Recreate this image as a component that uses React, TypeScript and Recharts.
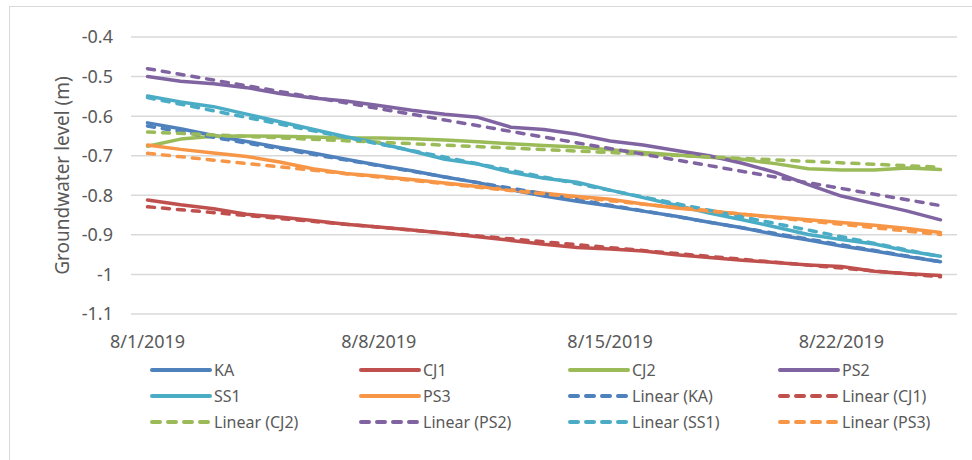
// groundwater level lines with linear trendlines

import { LineChart, Line, XAxis, YAxis, CartesianGrid } from "recharts";

const dates = [
  "8/1/2019", "8/2/2019", "8/3/2019", "8/4/2019", "8/5/2019", "8/6/2019", "8/7/2019",
  "8/8/2019", "8/9/2019", "8/10/2019", "8/11/2019", "8/12/2019", "8/13/2019", "8/14/2019",
  "8/15/2019", "8/16/2019", "8/17/2019", "8/18/2019", "8/19/2019", "8/20/2019", "8/21/2019",
  "8/22/2019", "8/23/2019", "8/24/2019", "8/25/2019",
];

const KA = [
  -0.617, -0.632, -0.649, -0.664, -0.679, -0.693, -0.709, -0.724, -0.738, -0.754, -0.768, -0.786,
  -0.802, -0.815, -0.827, -0.84, -0.853, -0.868, -0.882, -0.899, -0.913, -0.928, -0.941, -0.955, -0.968,
];
const CJ1 = [
  -0.812, -0.824, -0.834, -0.848, -0.855, -0.864, -0.873, -0.88, -0.888, -0.896, -0.905, -0.914,
  -0.924, -0.932, -0.936, -0.941, -0.95, -0.957, -0.964, -0.97, -0.976, -0.98, -0.992, -0.998, -1.003,
];
const CJ2 = [
  -0.676, -0.658, -0.651, -0.65, -0.651, -0.653, -0.655, -0.655, -0.657, -0.66, -0.665, -0.67,
  -0.674, -0.678, -0.685, -0.692, -0.698, -0.704, -0.709, -0.72, -0.733, -0.736, -0.736, -0.731, -0.735,
];
const PS2 = [
  -0.5, -0.512, -0.518, -0.528, -0.543, -0.554, -0.562, -0.573, -0.585, -0.595, -0.603, -0.628,
  -0.634, -0.646, -0.663, -0.673, -0.687, -0.7, -0.719, -0.742, -0.773, -0.802, -0.821, -0.84, -0.862,
];
const SS1 = [
  -0.549, -0.564, -0.576, -0.595, -0.614, -0.633, -0.652, -0.668, -0.688, -0.709, -0.721, -0.742,
  -0.757, -0.767, -0.787, -0.806, -0.825, -0.845, -0.862, -0.88, -0.899, -0.912, -0.923, -0.941, -0.954,
];
const PS3 = [
  -0.673, -0.684, -0.693, -0.702, -0.716, -0.733, -0.745, -0.752, -0.76, -0.769, -0.778, -0.786,
  -0.795, -0.803, -0.81, -0.822, -0.832, -0.84, -0.848, -0.855, -0.862, -0.869, -0.876, -0.884, -0.894,
];

// trendline ends (first day, last day)
const trendStart = [-0.625, -0.829, -0.64, -0.48, -0.553, -0.694];
const trendEnd = [-0.968, -1.006, -0.729, -0.826, -0.955, -0.899];

const seriesNames = ["KA", "CJ1", "CJ2", "PS2", "SS1", "PS3"];
const seriesValues = [KA, CJ1, CJ2, PS2, SS1, PS3];
const seriesColors = ["#4F81BD", "#C0504D", "#9BBB59", "#8064A2", "#4BACC6", "#F79646"];

const xTickDays = [0, 7, 14, 21];
const xBandEdges = [-0.5, 6.5, 13.5, 20.5];
const yTicks = [-1.1, -1, -0.9, -0.8, -0.7, -0.6, -0.5, -0.4];

const rows = dates.map((date, i) => {
  const row: Record<string, number | string | null> = { day: i, date };
  seriesNames.forEach((name, s) => {
    row[name] = seriesValues[s][i];
    row["trend" + name] = i === 0 ? trendStart[s] : i === dates.length - 1 ? trendEnd[s] : null;
  });
  return row;
});

const FONT = "'Noto Sans', 'Open Sans', sans-serif";
const TEXT = "#595959";
const GRID = "#d9d9d9";
const DASH = "7 8";

// legend entries in Excel's order: series first, then their trendlines
const legendItems = [
  ...seriesNames.map((n, s) => ({ label: n, color: seriesColors[s], dashed: false })),
  ...seriesNames.map((n, s) => ({ label: `Linear (${n})`, color: seriesColors[s], dashed: true })),
];

function YTitle(props: any) {
  const { viewBox } = props;
  const cy = viewBox.y + viewBox.height / 2;
  return (
    <text
      x={62}
      y={cy}
      transform={`rotate(-90, 62, ${cy})`}
      textAnchor="middle"
      dominantBaseline="central"
      fill={TEXT}
      fontSize={19}
      fontFamily={FONT}
    >
      Groundwater level (m)
    </text>
  );
}

export default function App() {
  return (
    <div style={{ position: "absolute", left: 0, top: 0, width: 972, height: 460, background: "#fff", overflow: "hidden", fontFamily: FONT }}>
      <div style={{ position: "absolute", left: 9, top: 6, right: 0, bottom: 0, borderTop: `1px solid ${GRID}`, borderLeft: `1px solid ${GRID}` }} />
      <LineChart width={972} height={460} data={rows} margin={{ top: 37, right: 15, bottom: 0, left: 0 }}>
        <CartesianGrid vertical={false} stroke={GRID} strokeWidth={1.5} />
        <XAxis
          xAxisId="top"
          orientation="top"
          dataKey="day"
          type="number"
          domain={[-0.5, 24.5]}
          ticks={xBandEdges}
          tick={false}
          height={0}
          mirror
          tickSize={5}
          axisLine={{ stroke: GRID, strokeWidth: 1.5 }}
          tickLine={{ stroke: GRID, strokeWidth: 1.5 }}
        />
        <XAxis
          dataKey="day"
          type="number"
          domain={[-0.5, 24.5]}
          ticks={xTickDays}
          tickFormatter={(d: number) => dates[d]}
          height={146}
          axisLine={false}
          tickLine={false}
          tickSize={0}
          tickMargin={21}
          tick={{ fill: TEXT, fontSize: 18, fontFamily: FONT }}
        />
        <YAxis
          type="number"
          domain={[-1.1, -0.4]}
          ticks={yTicks}
          width={131}
          axisLine={false}
          tickLine={false}
          tickSize={0}
          tickMargin={18}
          tickFormatter={(v: number) => String(Number(v.toFixed(1)))}
          tick={{ fill: TEXT, fontSize: 18, fontFamily: FONT }}
          label={<YTitle />}
        />
        {seriesNames.map((name, s) => (
          <Line
            key={name}
            dataKey={name}
            stroke={seriesColors[s]}
            strokeWidth={3.5}
            strokeLinecap="round"
            strokeLinejoin="round"
            dot={false}
            type="linear"
            isAnimationActive={false}
          />
        ))}
        {seriesNames.map((name, s) => (
          <Line
            key={"trend" + name}
            dataKey={"trend" + name}
            stroke={seriesColors[s]}
            strokeWidth={3.5}
            strokeDasharray={DASH}
            strokeLinecap="round"
            dot={false}
            type="linear"
            connectNulls
            isAnimationActive={false}
          />
        ))}
      </LineChart>

      {/* legend, 4 columns x 3 rows */}
      <div style={{ position: "absolute", left: 150, top: 358, width: 840, display: "grid", gridTemplateColumns: "209px 209px 210px 210px", rowGap: 2 }}>
        {legendItems.map((item) => (
          <div key={item.label} style={{ display: "flex", alignItems: "center", height: 24 }}>
            <svg width={62} height={10} style={{ flex: "none" }}>
              <line
                x1={2}
                y1={5}
                x2={60}
                y2={5}
                stroke={item.color}
                strokeWidth={4}
                strokeLinecap="round"
                strokeDasharray={item.dashed ? "8 8" : undefined}
              />
            </svg>
            <span style={{ marginLeft: 2, fontSize: 16, color: TEXT, whiteSpace: "nowrap" }}>{item.label}</span>
          </div>
        ))}
      </div>
    </div>
  );
}
